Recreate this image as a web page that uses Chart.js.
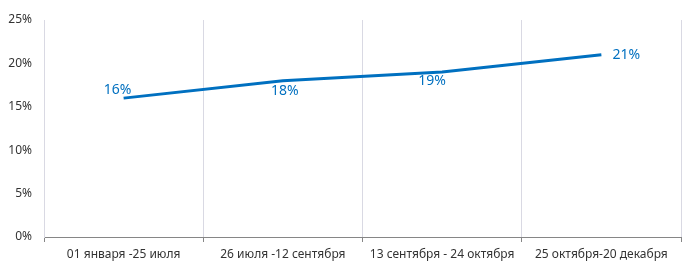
<!DOCTYPE html>
<html>
<head>
<meta charset="utf-8">
<script src="https://cdn.jsdelivr.net/npm/chart.js@4"></script>
<style>
  html, body { margin: 0; padding: 0; background: #fff; }
  #wrap { width: 688px; height: 273px; position: relative; }
</style>
</head>
<body>
<div id="wrap"><canvas id="chart"></canvas></div>
<script>
const periods = ['01 января -25 июля', '26 июля -12 сентября', '13 сентября - 24 октября', '25 октября-20 декабря'];
const shares = [16, 18, 19, 21];
const yTicks = [0, 5, 10, 15, 20, 25];

// where each value label sits relative to its point
const labelPlace = [[-6, -8], [2, 10], [-10, 9], [25, 0]];

const blue = '#0070C0';
const fontFamily = "'Noto Sans', 'Open Sans', sans-serif";

const valueLabels = {
  id: 'valueLabels',
  afterDatasetsDraw(chart) {
    const ctx = chart.ctx;
    const meta = chart.getDatasetMeta(0);
    ctx.save();
    ctx.font = `14px ${fontFamily}`;
    ctx.fillStyle = blue;
    ctx.textAlign = 'center';
    ctx.textBaseline = 'middle';
    meta.data.forEach((pt, i) => {
      const [dx, dy] = labelPlace[i];
      ctx.fillText(shares[i] + '%', pt.x + dx, pt.y + dy);
    });
    ctx.restore();
  }
};

new Chart(document.getElementById('chart'), {
  type: 'line',
  data: {
    labels: periods,
    datasets: [{
      data: shares,
      borderColor: blue,
      borderWidth: 3,
      pointRadius: 0,
      tension: 0,
      fill: false,
    }],
  },
  options: {
    responsive: true,
    maintainAspectRatio: false,
    animation: false,
    layout: { padding: { top: 20, right: 7, left: 0, bottom: 0 } },
    plugins: { legend: { display: false }, tooltip: { enabled: false } },
    scales: {
      x: {
        offset: true,
        grid: { offset: true, color: '#d9d9e3', tickColor: '#868686', tickLength: 5 },
        border: { color: '#868686' },
        ticks: { color: '#333333', font: { family: fontFamily, size: 12 }, padding: 5, maxRotation: 0, autoSkip: false },
        afterFit: (s) => { s.height = 36; },
      },
      y: {
        min: 0,
        max: 25,
        afterBuildTicks: (s) => { s.ticks = yTicks.map((v) => ({ value: v })); },
        grid: { display: false, drawTicks: false },
        border: { display: true, color: '#d9d9e3' },
        ticks: { color: '#333333', font: { family: fontFamily, size: 12 }, padding: 12, callback: (v) => v + '%' },
        afterFit: (s) => { s.width = 44; },
      },
    },
  },
  plugins: [valueLabels],
});
</script>
</body>
</html>
